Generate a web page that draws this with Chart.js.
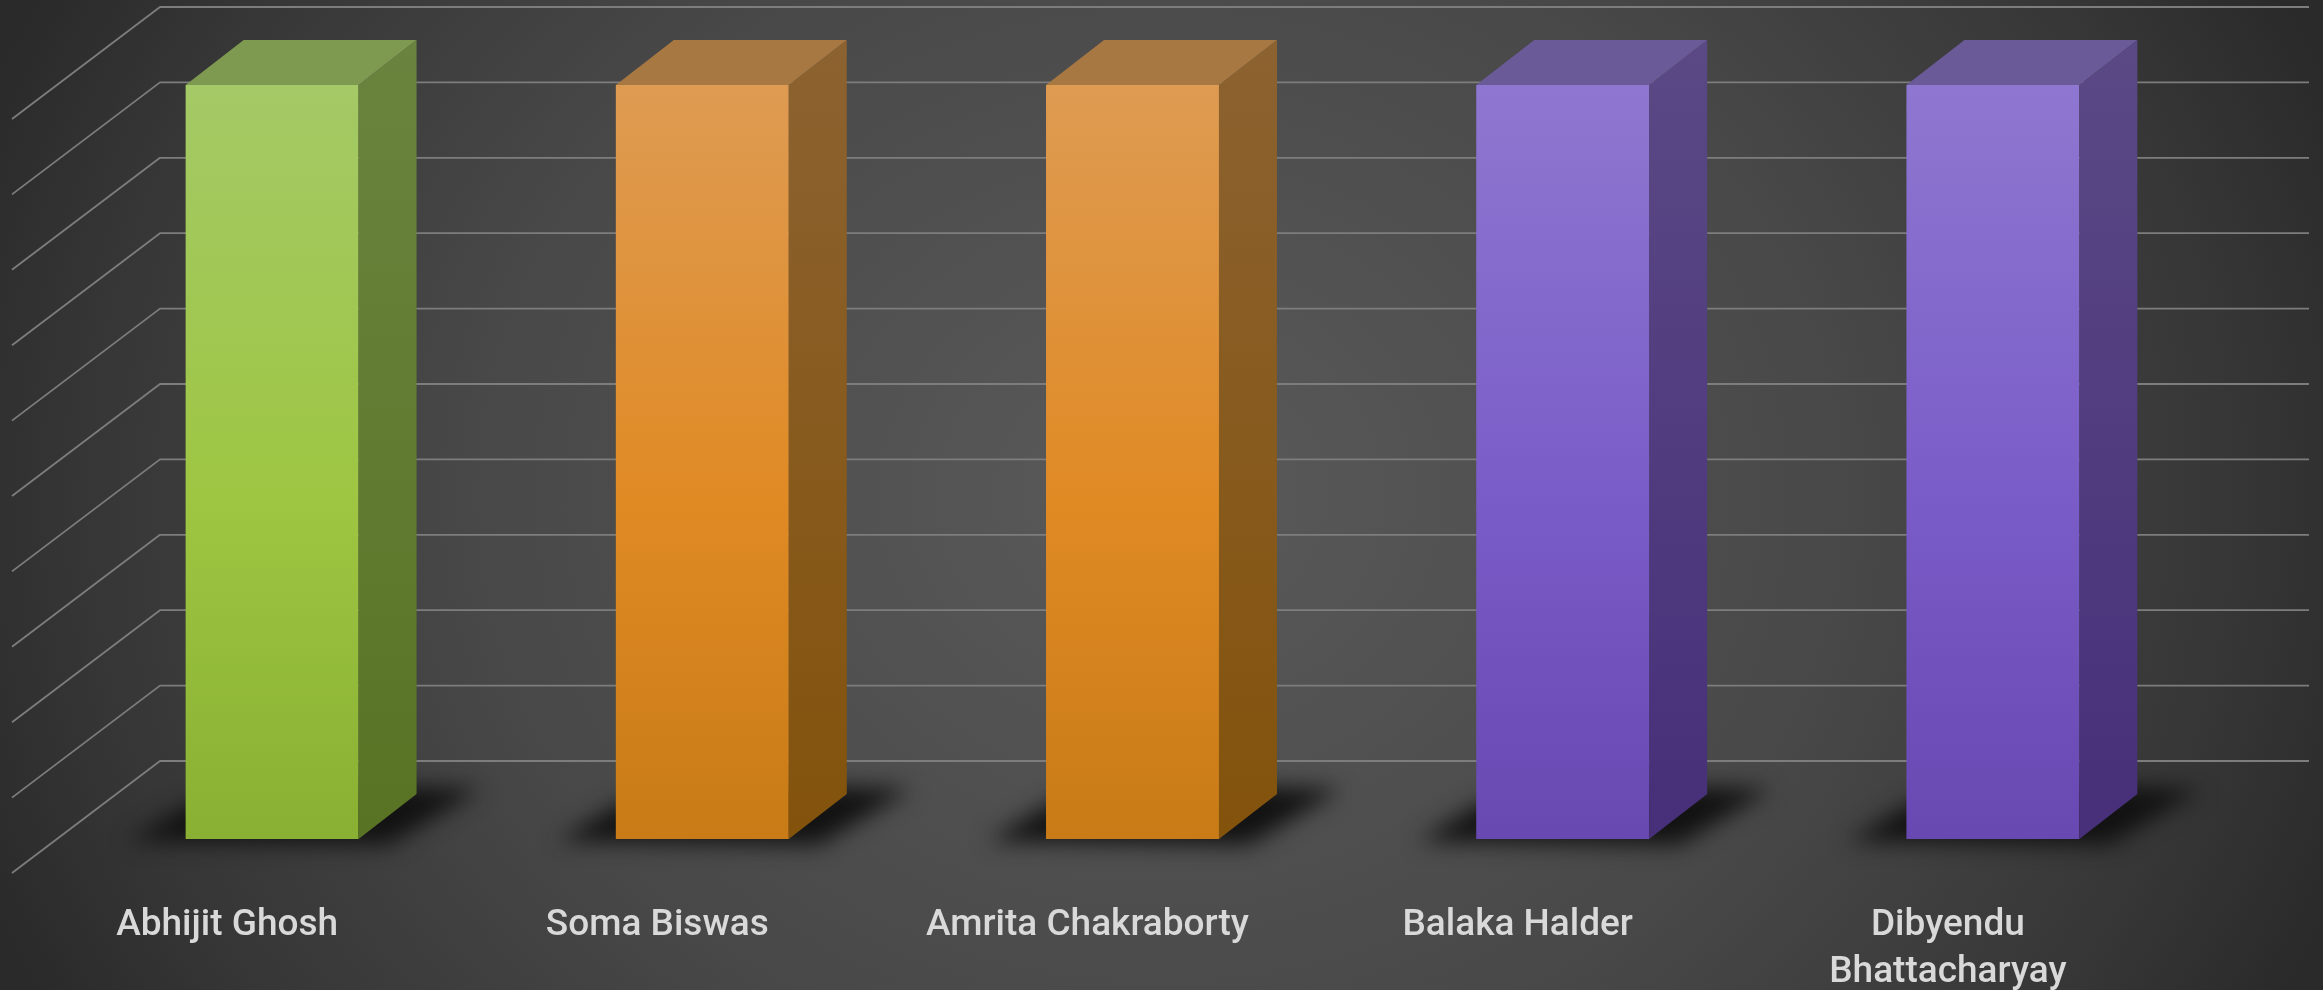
<!DOCTYPE html>
<html>
<head>
<meta charset="utf-8">
<title>Chart</title>
<script src="https://cdn.jsdelivr.net/npm/chart.js@4"></script>
<style>
  html, body { margin: 0; padding: 0; width: 2323px; height: 990px; overflow: hidden; }
  body { background: radial-gradient(ellipse 1170px 1000px at 50% 50%, #5a5a5a 0, #484848 59%, #363636 92%, #2a2a2a 108%); }
  canvas { display: block; }
</style>
</head>
<body>
<canvas id="chart" width="2323" height="990"></canvas>
<script>
// Data
const categories = ['Abhijit Ghosh', 'Soma Biswas', 'Amrita Chakraborty', 'Balaka Halder', ['Dibyendu', 'Bhattacharyay']];
const values = [10, 10, 10, 10, 10];
const axisMin = 0;
const axisMax = 10;
const axisStep = 1;

// front: top, middle, bottom / side: top, bottom / lid
const green = { front: ['#a4c966', '#9ec642', '#89b032'], side: ['#6a843f', '#597324'], lid: '#7e9950' };
const orange = { front: ['#de9b52', '#e08a24', '#c87b16'], side: ['#8c6230', '#83530c'], lid: '#a87843' };
const purple = { front: ['#8e77d0', '#7a5cc8', '#6848b1'], side: ['#5a4985', '#472f79'], lid: '#6a5a98' };
const barStyles = [green, orange, orange, purple, purple];

// 3D look
const depthX = 58, depthY = 45;     // bar side
const frontX = 45, frontY = 34;     // floor in front of the bars
const backX = 103, backY = 78;      // wall behind the bars

function poly(ctx, pts) {
    ctx.beginPath();
    pts.forEach((p, i) => i ? ctx.lineTo(p[0], p[1]) : ctx.moveTo(p[0], p[1]));
    ctx.closePath();
}

const box3d = {
    id: 'box3d',
    beforeDatasetsDraw(chart) {
        const { ctx, chartArea, scales } = chart;
        // Grid: slanted side wall + back wall
        ctx.save();
        ctx.strokeStyle = '#7d7d7d';
        ctx.lineWidth = 1.8;
        ctx.lineJoin = 'round';
        scales.y.ticks.forEach(t => {
            const y = scales.y.getPixelForValue(t.value);
            ctx.beginPath();
            ctx.moveTo(chartArea.left - frontX, y + frontY);
            ctx.lineTo(chartArea.left + backX, y - backY);
            ctx.lineTo(chartArea.right + backX - 2, y - backY);
            ctx.stroke();
        });
        ctx.restore();

        // Floor shadows
        ctx.save();
        ctx.filter = 'blur(11px)';
        ctx.fillStyle = '#121212';
        chart.getDatasetMeta(0).data.forEach(bar => {
            const l = bar.x - bar.width / 2, r = bar.x + bar.width / 2, b = bar.base;
            poly(ctx, [[l - 58, b + 2], [r + 30, b + 6], [r + 122, b - 50], [r + 10, b - 54], [l + 5, b - 36]]);
            ctx.fill();
        });
        ctx.restore();
    },
    afterDatasetsDraw(chart) {
        const { ctx } = chart;
        ctx.save();
        chart.getDatasetMeta(0).data.forEach((bar, i) => {
            const st = barStyles[i];
            const l = bar.x - bar.width / 2, r = bar.x + bar.width / 2;
            const t = bar.y, b = bar.base;

            const g = ctx.createLinearGradient(0, t - depthY, 0, b);
            g.addColorStop(0, st.side[0]);
            g.addColorStop(1, st.side[1]);
            ctx.fillStyle = g;
            poly(ctx, [[r, t], [r + depthX, t - depthY], [r + depthX, b - depthY], [r, b]]);
            ctx.fill();

            ctx.fillStyle = st.lid;
            poly(ctx, [[l, t], [l + depthX, t - depthY], [r + depthX, t - depthY], [r, t]]);
            ctx.fill();
        });
        ctx.restore();
    }
};

new Chart(document.getElementById('chart'), {
    type: 'bar',
    plugins: [box3d],
    data: {
        labels: categories,
        datasets: [{
            data: values,
            borderWidth: 0,
            barPercentage: 0.402,
            categoryPercentage: 1,
            backgroundColor: c => {
                const area = c.chart.chartArea;
                if (!area) return '#888';
                const st = barStyles[c.dataIndex];
                const g = c.chart.ctx.createLinearGradient(0, area.top, 0, area.bottom);
                g.addColorStop(0, st.front[0]);
                g.addColorStop(0.55, st.front[1]);
                g.addColorStop(1, st.front[2]);
                return g;
            }
        }]
    },
    options: {
        responsive: false,
        animation: false,
        layout: { padding: { left: 57, right: 115, top: 85, bottom: 0 } },
        plugins: { legend: { display: false }, tooltip: { enabled: false } },
        scales: {
            x: {
                grid: { display: false },
                border: { display: false },
                afterFit: s => { s.height = 151; },
                ticks: {
                    color: '#d9d9d9',
                    font: { family: 'Roboto', size: 37, weight: '500', lineHeight: 1.25 },
                    padding: 56,
                    labelOffset: -frontX,
                    autoSkip: false,
                    maxRotation: 0,
                    minRotation: 0
                }
            },
            y: {
                display: false,
                min: axisMin,
                max: axisMax,
                ticks: { stepSize: axisStep }
            }
        }
    }
});
</script>
</body>
</html>
